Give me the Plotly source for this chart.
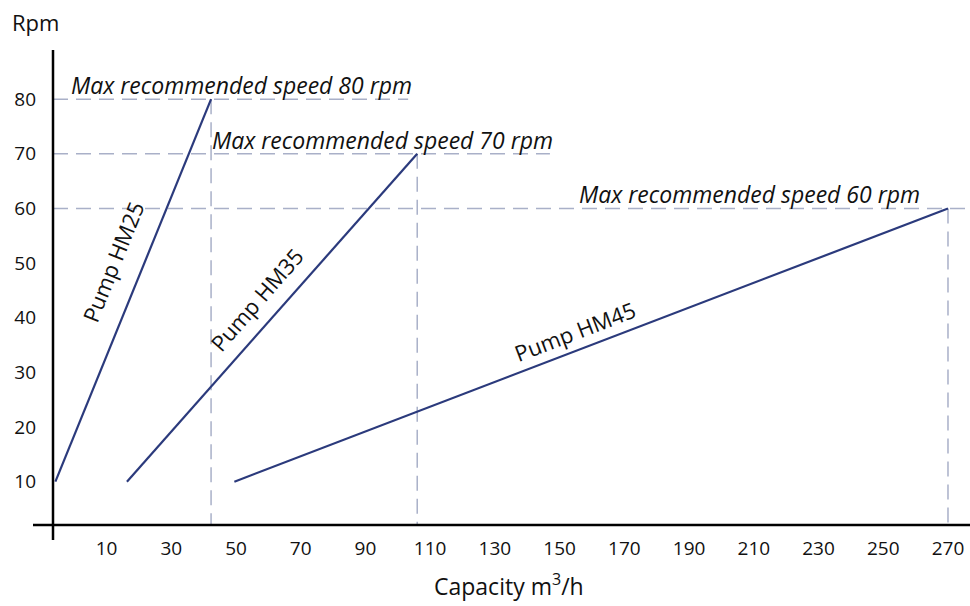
import plotly.graph_objects as go

# ---- data ----
pumps = ["Pump HM25", "Pump HM35", "Pump HM45"]
capacity_start = [-5.8, 16.3, 49.5]
capacity_end = [42.3, 106.0, 270.0]
rpm_start = [10, 10, 10]
rpm_end = [80, 70, 60]
max_speed_labels = ["Max recommended speed 80 rpm",
                    "Max recommended speed 70 rpm",
                    "Max recommended speed 60 rpm"]
x_ticks = [10, 30, 50, 70, 90, 110, 130, 150, 170, 190, 210, 230, 250, 270]
y_ticks = [10, 20, 30, 40, 50, 60, 70, 80]

X_MIN, X_MAX = -6.54, 276.8
Y_MIN, Y_MAX = 2.07, 89.0

LINE_COLOR = "#2b3a7c"
DASH_COLOR = "#a9b0c8"
FONT = "Open Sans"

fig = go.Figure()

# dashed guides (horizontal end at text end, vertical from max speed to axis)
h_end = [103.2, 147.0, 276.8]
for xe, ye, he in zip(capacity_end, rpm_end, h_end):
    fig.add_trace(go.Scatter(x=[X_MIN, he], y=[ye, ye], mode="lines",
                             line=dict(color=DASH_COLOR, width=1.5, dash="15px,8px"),
                             hoverinfo="skip", showlegend=False))
    fig.add_trace(go.Scatter(x=[xe, xe], y=[ye, Y_MIN], mode="lines",
                             line=dict(color=DASH_COLOR, width=1.5, dash="15px,8px"),
                             hoverinfo="skip", showlegend=False))

# pump lines
for name, x0, x1, y0, y1 in zip(pumps, capacity_start, capacity_end, rpm_start, rpm_end):
    fig.add_trace(go.Scatter(x=[x0, x1], y=[y0, y1], mode="lines", name=name,
                             line=dict(color=LINE_COLOR, width=2.2),
                             showlegend=False))

annotations = []
# pump labels along lines
label_t = [0.546, 0.51, 0.487]
label_angle = [-68, -49, -21]
label_shift = [(-28, 11), (-18, 15), (-7, 18)]
for name, x0, x1, y0, y1, t, ang, (sx, sy) in zip(
        pumps, capacity_start, capacity_end, rpm_start, rpm_end,
        label_t, label_angle, label_shift):
    annotations.append(dict(x=x0 + t * (x1 - x0), y=y0 + t * (y1 - y0),
                            text=name, showarrow=False, textangle=ang,
                            xshift=sx, yshift=sy,
                            font=dict(family=FONT, size=22, color="#111")))

# max speed texts
text_x = [-1.5, 42.0, 155.4]
for txt, tx, ye in zip(max_speed_labels, text_x, rpm_end):
    annotations.append(dict(x=tx, y=ye, text="<i>" + txt + "</i>", showarrow=False,
                            xanchor="left", yanchor="bottom", yshift=-4,
                            font=dict(family=FONT, size=23, color="#111")))

# axis titles
annotations.append(dict(x=10, y=22, text="Rpm",
                        showarrow=False, xanchor="left", yanchor="middle",
                        font=dict(family=FONT, size=22, color="#111")))
annotations.append(dict(x=509, y=585, text="Capacity m<sup>3</sup>/h",
                        showarrow=False, xanchor="center", yanchor="middle",
                        font=dict(family=FONT, size=23, color="#111")))

W, H = 970, 606
L, R, T, B = 53, 0, 50, 81
pw, ph = W - L - R, H - T - B
# convert pixel-placed title annotations to paper coords
for a in annotations[-2:]:
    a["xref"] = "paper"
    a["yref"] = "paper"
    a["x"] = (a["x"] - L) / pw
    a["y"] = (H - B - a["y"]) / ph

shapes = [
    dict(type="line", xref="paper", yref="paper", x0=-20 / pw, x1=1, y0=0, y1=0,
         line=dict(color="black", width=2.5), layer="above"),
    dict(type="line", xref="paper", yref="paper", x0=0, x1=0, y0=-15 / ph, y1=1,
         line=dict(color="black", width=2.5), layer="above"),
]

fig.update_layout(
    width=W, height=H,
    margin=dict(l=L, r=R, t=T, b=B),
    plot_bgcolor="white", paper_bgcolor="white",
    annotations=annotations, shapes=shapes,
    xaxis=dict(range=[X_MIN, X_MAX], tickvals=x_ticks, showgrid=False, zeroline=False,
               showline=False, ticks="", ticklabelstandoff=10,
               tickfont=dict(family=FONT, size=19, color="#111")),
    yaxis=dict(range=[Y_MIN, Y_MAX], tickvals=y_ticks, showgrid=False, zeroline=False,
               showline=False, ticks="", ticklabelstandoff=16,
               tickfont=dict(family=FONT, size=19, color="#111")),
)

fig.write_html("out.html", config={"displayModeBar": False},
               post_script="document.body.style.margin='0';document.body.style.overflow='hidden';")
